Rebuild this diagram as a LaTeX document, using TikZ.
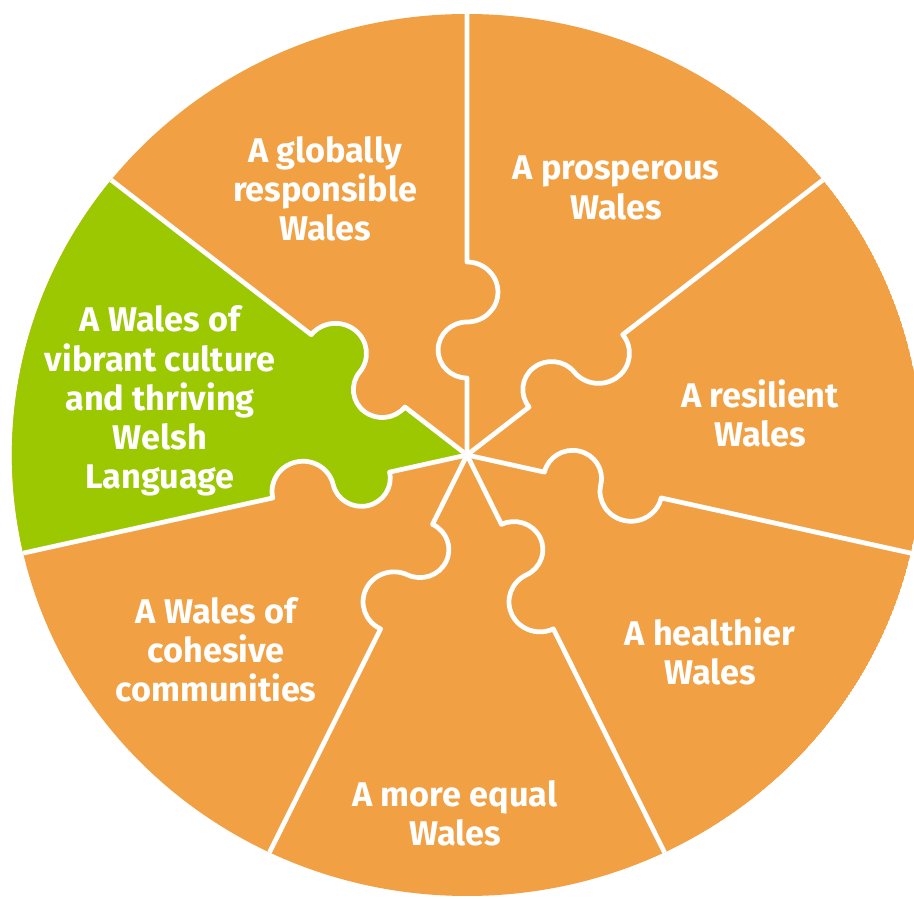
\documentclass[tikz,border=0pt]{standalone}
\usepackage{fontspec}
\setmainfont{Fira Sans}
\definecolor{piece}{HTML}{F1A043}
\definecolor{leaf}{HTML}{9BC800}
\tikzset{
  seam/.style={white, line width=2.7pt, line join=round},
  goal/.style={text=white, align=center, font=\bfseries\fontsize{19.5}{22.3}\selectfont}
}

\begin{document}
\begin{tikzpicture}[x=0.02cm,y=0.02cm]
  \useasboundingbox (-467,-444) rectangle (447,455);

  \begin{scope}[xscale=1.032]
    \clip (0,0) circle (441);
    \fill[piece] (0,0) circle (441);
    % the green piece, with its knobs
    \fill[leaf] (0,0) -- (141.43:600) -- (167.14:600) -- (192.86:600) -- cycle;
    \fill[leaf] (192.86:105) circle (28);
    \fill[leaf] (141.43:163) circle (30);
    \fill[piece] (192.86:163) circle (30);
    \fill[piece] (141.43:105) circle (28);
    % jigsaw seams
    \foreach \k in {0,...,6}
      \draw[seam, rotate=90+\k*360/7] (0,0) -- (77,0)
        arc[start angle=180, end angle=0, radius=28]
        arc[start angle=180, end angle=360, radius=30] -- (480,0);
  \end{scope}

  \node[goal] (global) at (-142,266) {A globally\\responsible\\Wales};
  \node[goal] (prosper) at (149,267) {A prosperous\\Wales};
  \node[goal] (resilient) at (293,42) {A resilient\\Wales};
  \node[goal] (health) at (243,-196) {A healthier\\Wales};
  \node[goal] (equal) at (-12,-358) {A more equal\\Wales};
  \node[goal] (cohesive) at (-251,-195) {A Wales of\\cohesive\\communities};
  \node[goal] (culture) at (-307,54) {A Wales of\\vibrant culture\\and thriving\\Welsh\\Language};
\end{tikzpicture}
\end{document}
